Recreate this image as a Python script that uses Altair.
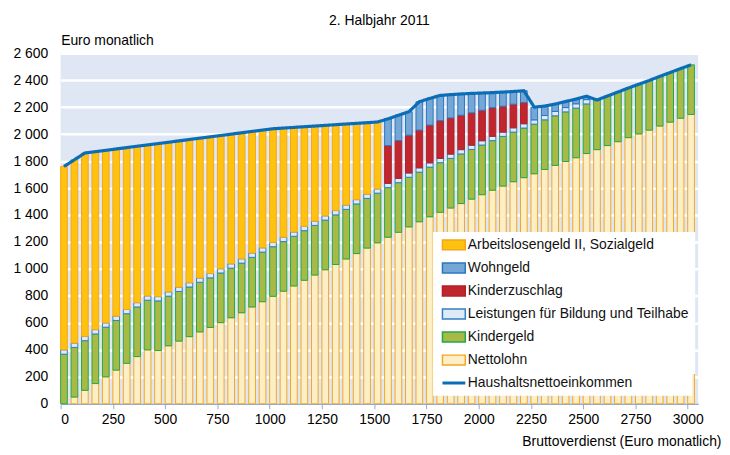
import altair as alt
import pandas as pd

# Bruttoverdienst (Euro monatlich), one bar every 50 Euro
brutto = [0, 50, 100, 150, 200, 250, 300, 350, 400, 450, 500, 550, 600, 650, 700, 750,
          800, 850, 900, 950, 1000, 1050, 1100, 1150, 1200, 1250, 1300, 1350, 1400, 1450, 1500,
          1550, 1600, 1650, 1700, 1750, 1800, 1850, 1900, 1950, 2000, 2050, 2100, 2150, 2200, 2250,
          2300, 2350, 2400, 2450, 2500, 2550, 2600, 2650, 2700, 2750, 2800, 2850, 2900, 2950, 3000]

nettolohn = [0, 50, 100, 150, 200, 250, 300, 350, 400, 395, 430, 465, 498, 533, 566, 602,
             638, 675, 718, 757, 797, 835, 874, 916, 955, 994, 1033, 1074, 1114, 1155, 1194,
             1235, 1272, 1312, 1350, 1387, 1420, 1452, 1485, 1518, 1551, 1584, 1615, 1647, 1677, 1706,
             1738, 1768, 1797, 1825, 1856, 1885, 1915, 1944, 1974, 2002, 2030, 2060, 2089, 2118, 2146]

kindergeld = [368] * 61

bildung_teilhabe = [32] * 51 + [0] * 10

kinderzuschlag = ([0] * 31
                  + [280, 280, 280, 280, 280, 280, 268, 255, 240, 226, 212, 192, 175, 157]
                  + [0] * 16)

wohngeld = ([0] * 31
            + [198, 188, 174, 210, 198, 187, 173, 158, 144, 128, 112, 105, 94, 88,
               94, 70, 55, 45, 35, 25]
            + [0] * 10)

alg2 = ([1360, 1360, 1360, 1320, 1280, 1240, 1200, 1160, 1120, 1135, 1110, 1085, 1062, 1037,
         1014, 988, 962, 935, 902, 873, 843, 810, 776, 739, 705, 671, 637, 601, 566, 530, 496]
        + [0] * 30)

x_ticks = [0, 250, 500, 750, 1000, 1250, 1500, 1750, 2000, 2250, 2500, 2750, 3000]
y_ticks = [0, 200, 400, 600, 800, 1000, 1200, 1400, 1600, 1800, 2000, 2200, 2400, 2600]

bar_legend_order = ["Arbeitslosengeld II, Sozialgeld", "Wohngeld", "Kinderzuschlag",
                    "Leistungen für Bildung und Teilhabe", "Kindergeld", "Nettolohn"]
line_name = "Haushaltsnettoeinkommen"
fill_colors = ["#ffc20e", "#74a6d6", "#c0262d", "#dfeaf7", "#a9b946", "#fcefc6"]
stroke_colors = ["#f5a51c", "#2a77c0", "#b31f29", "#2f80c8", "#22a84a", "#f5a623"]
line_color = "#0b6db5"

stack = [("Nettolohn", nettolohn), ("Kindergeld", kindergeld),
         ("Leistungen für Bildung und Teilhabe", bildung_teilhabe),
         ("Kinderzuschlag", kinderzuschlag), ("Wohngeld", wohngeld),
         ("Arbeitslosengeld II, Sozialgeld", alg2)]

rows = []
totals = []
for i, g in enumerate(brutto):
    base = 0
    for name, series in stack:
        v = series[i]
        if v > 0:
            rows.append({"brutto": g, "komponente": name, "y0": base, "y1": base + v})
        base += v
    totals.append(base)

bars_df = pd.DataFrame(rows)
line_df = pd.DataFrame({"brutto": brutto, "gesamt": totals, "serie": line_name})

FONT = "Liberation Sans"
xscale = alt.Scale(domain=[0, 3050], nice=False, zero=False)
yscale = alt.Scale(domain=[0, 2600], nice=False)

y_label_expr = ("datum.value >= 1000 ? format(floor(datum.value / 1000), 'd') + ' ' + "
                "format(datum.value % 1000, '03d') : format(datum.value, 'd')")

x_axis = alt.Axis(values=x_ticks, format="d", grid=False,
                  domainColor="#8eaadb", domainWidth=1.5, tickColor="#8eaadb",
                  tickSize=5, tickWidth=1, labelPadding=4, labelFont=FONT,
                  labelFontSize=14, labelColor="black",
                  title="Bruttoverdienst (Euro monatlich)", titleFont=FONT,
                  titleFontSize=14, titleFontWeight="normal", titleColor="black",
                  titleAlign="right", titleX=665, titleY=38, titleBaseline="middle")

y_axis = alt.Axis(values=y_ticks, labelExpr=y_label_expr, labelOverlap=False,
                  grid=True, gridColor="white", gridWidth=2.5, domain=False,
                  ticks=False, labelPadding=13, labelFont=FONT, labelFontSize=14,
                  labelColor="black", title="Euro monatlich", titleFont=FONT,
                  titleFontSize=14, titleFontWeight="normal", titleColor="black",
                  titleAngle=0, titleAlign="left", titleX=0, titleY=-13,
                  titleBaseline="middle")

bars = alt.Chart(bars_df).transform_calculate(
    xr="datum.brutto + 32"
).mark_bar(strokeWidth=1).encode(
    x=alt.X("brutto:Q", scale=xscale, axis=x_axis),
    x2="xr:Q",
    y=alt.Y("y1:Q", scale=yscale, axis=y_axis),
    y2="y0:Q",
    fill=alt.Fill("komponente:N",
                  scale=alt.Scale(domain=bar_legend_order, range=fill_colors),
                  legend=alt.Legend(title=None, orient="none", legendX=375, legendY=180,
                                    fillColor="white", padding=6, symbolSize=100,
                                    symbolType="M-2.3,-1H2.3V1H-2.3Z",
                                    symbolOffset=8, labelOffset=7,
                                    labelFont=FONT, labelFontSize=14, labelColor="#111111",
                                    rowPadding=7.2, labelLimit=400)),
    stroke=alt.Stroke("komponente:N",
                      scale=alt.Scale(domain=bar_legend_order, range=stroke_colors),
                      legend=None),
)

line = alt.Chart(line_df).transform_calculate(
    xm="datum.brutto + 16"
).mark_line(color=line_color, strokeWidth=3.2).encode(
    x=alt.X("xm:Q", scale=xscale, axis=x_axis),
    y=alt.Y("gesamt:Q", scale=yscale, axis=y_axis),
    strokeDash=alt.StrokeDash(
        "serie:N", scale=alt.Scale(domain=[line_name], range=[[1, 0]]),
        legend=alt.Legend(title="MMMM", titleOrient="right", titleColor="white",
                          titleFont=FONT, titleFontSize=14, titlePadding=7,
                          orient="none", legendX=375, legendY=319,
                          fillColor="white", padding=6, symbolSize=100,
                          symbolType="M-2.3,0H2.3", symbolStrokeWidth=3,
                          symbolStrokeColor=line_color,
                          symbolOffset=8, labelOffset=7,
                          labelFont=FONT, labelFontSize=14, labelColor="#111111",
                          labelLimit=400)),
)

chart = alt.layer(bars, line).properties(
    width=642, height=353,
    padding={"left": 53, "top": 44, "right": 24, "bottom": 46},
    autosize=alt.AutoSizeParams(type="none"),
    title=alt.TitleParams("2. Halbjahr 2011", font=FONT, fontSize=14,
                          fontWeight="normal", color="black", anchor="middle", offset=5),
).configure(font=FONT).configure_axis(labelOverlap=False).configure_view(
    fill="#dfe6f4", stroke=None)

chart.save("out.html", embed_options={"renderer": "svg", "actions": False})
